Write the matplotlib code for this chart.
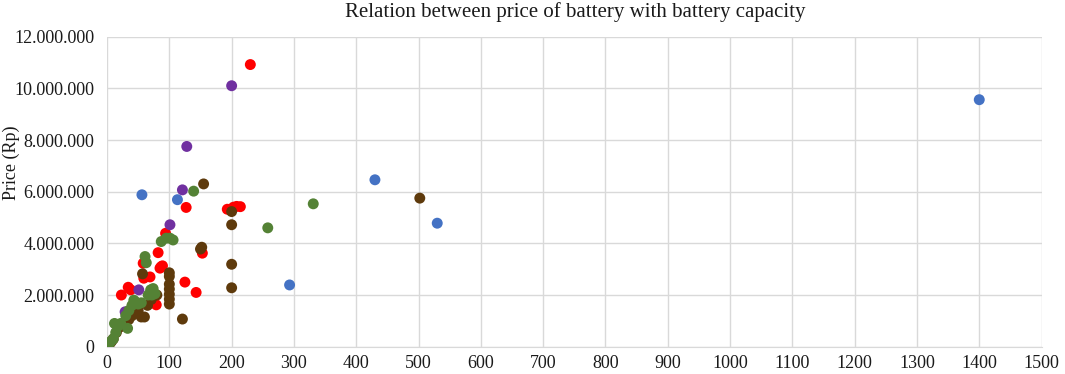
import numpy as np
import matplotlib
matplotlib.use('Agg')
import matplotlib.pyplot as plt
from matplotlib.ticker import FuncFormatter, MultipleLocator

# battery capacity (x) and price in millions of Rp (y), per colour group
blue_x = [56, 113, 293, 430, 530, 1400]
blue_y = [5.88, 5.69, 2.39, 6.46, 4.78, 9.56]

red_x = [230, 127, 193, 198, 203, 208, 214, 94, 153, 82, 58, 85, 89, 59, 125, 143,
         23, 38, 34, 79, 69, 87]
red_y = [10.92, 5.39, 5.32, 5.30, 5.40, 5.43, 5.42, 4.39, 3.62, 3.64, 3.23, 3.04, 3.13, 2.65, 2.50, 2.10,
         2.0, 2.2, 2.3, 1.62, 2.7, 3.1]

purple_x = [200, 128, 121, 101, 51, 29]
purple_y = [10.1, 7.75, 6.07, 4.72, 2.2, 1.35]

brown_x = [155, 200, 200, 152, 150, 200, 200, 502, 121, 100, 100, 100, 100, 100, 100, 100,
           57, 71, 60, 55, 45, 40, 35, 30, 25, 20, 15, 10, 7, 4, 65, 80, 50]
brown_y = [6.3, 5.23, 4.72, 3.85, 3.78, 3.19, 2.28, 5.75, 1.07, 2.86, 2.72, 2.42, 2.23, 2.03, 1.84, 1.65,
           2.82, 1.83, 1.15, 1.15, 1.3, 1.2, 1.05, 1.0, 0.9, 0.75, 0.55, 0.3, 0.2, 0.1, 1.6, 2.0, 1.4]

green_x = [139, 258, 331, 87, 95, 101, 106, 61, 63, 74, 77, 72,
           3, 6, 10, 14, 12, 18, 22, 30, 33, 35, 40, 43, 45, 50, 55, 66, 70]
green_y = [6.02, 4.6, 5.53, 4.07, 4.2, 4.2, 4.13, 3.49, 3.25, 2.25, 2.05, 2.0,
           0.1, 0.2, 0.3, 0.55, 0.9, 0.8, 0.9, 1.2, 0.71, 1.4, 1.6, 1.8, 1.75, 1.65, 1.7, 2.0, 2.2]

groups = [
    (blue_x, blue_y, '#4472C4'),
    (red_x, red_y, '#FF0000'),
    (purple_x, purple_y, '#7030A0'),
    (brown_x, brown_y, '#5E3A0C'),
    (green_x, green_y, '#548235'),
]

plt.rcParams['font.family'] = ['Liberation Serif', 'DejaVu Serif']

fig = plt.figure(figsize=(10.65, 3.74), dpi=100)
ax = fig.add_axes([0.1005, 0.073, 0.8775, 0.829])

for gx, gy, col in groups:
    ax.scatter(gx, np.array(gy) * 1e6, s=62, color=col, edgecolors='none', zorder=3)

ax.set_xlim(0, 1500)
ax.set_ylim(0, 12e6)
ax.xaxis.set_major_locator(MultipleLocator(100))
ax.yaxis.set_major_locator(MultipleLocator(2e6))
ax.yaxis.set_major_formatter(FuncFormatter(lambda v, p: f'{int(v):,}'.replace(',', '.')))

ax.grid(True, color='#D9D9D9', linewidth=1)
ax.set_axisbelow(True)
for s in ['top', 'right', 'left']:
    ax.spines[s].set_visible(False)
ax.spines['bottom'].set_color('#D9D9D9')
ax.tick_params(length=0, labelsize=13, colors='#1a1a1a')
ax.tick_params(axis='y', pad=9)
ax.tick_params(axis='x', pad=6)

fig.text(0.011, 0.564, 'Price (Rp)', rotation=90, ha='center', va='center',
         fontsize=13, color='#1a1a1a')
fig.text(0.54, 0.968, 'Relation between price of battery with battery capacity',
         ha='center', va='center', fontsize=15, color='#1a1a1a')

fig.savefig('out.png', dpi=100)
